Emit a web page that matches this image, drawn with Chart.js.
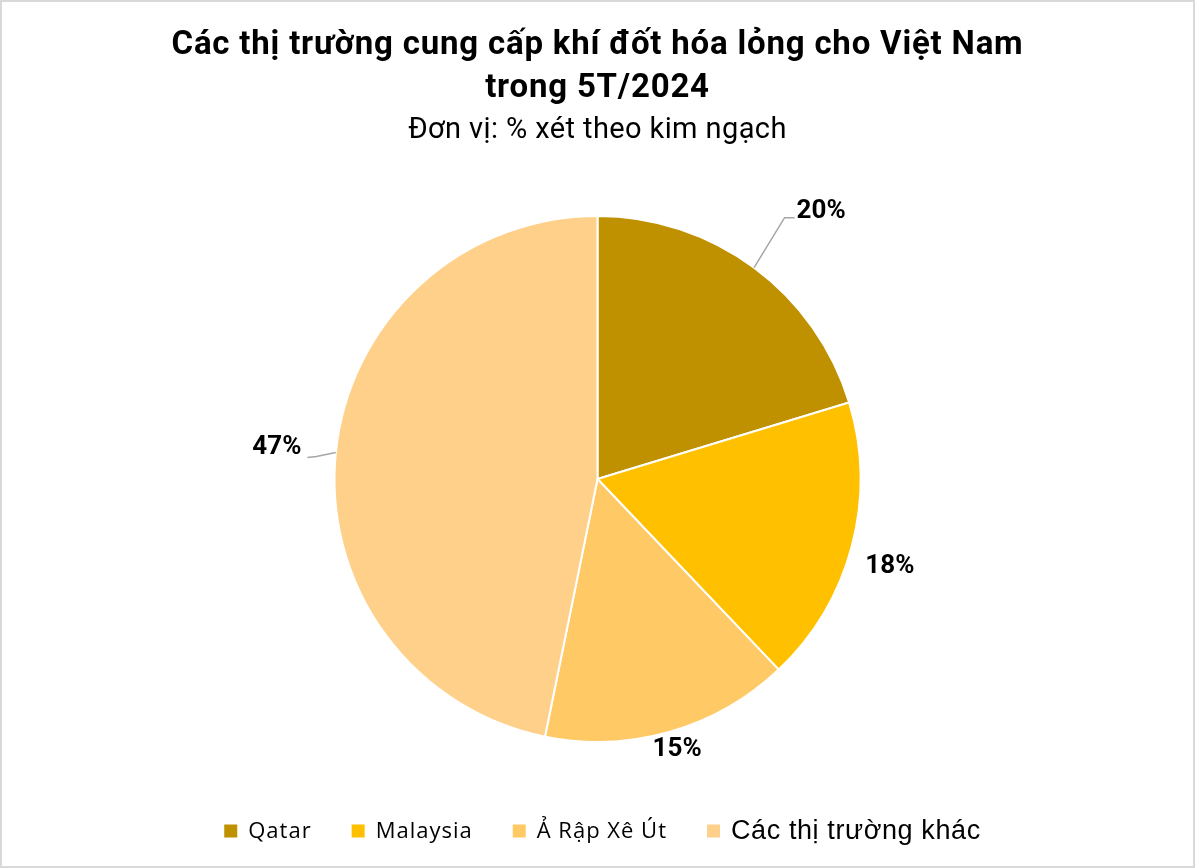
<!doctype html>
<html lang="vi">
  <head>
    <meta charset="utf-8">
    <title>Khí đốt hóa lỏng 5T/2024</title>
    <style>
      * { margin: 0; padding: 0; }
      body { background: #fff; }
      .chartBox { width: 1195px; height: 868px; }
    </style>
  </head>
  <body>
    <div class="chartBox">
      <canvas id="myChart" width="1195" height="868"></canvas>
    </div>
    <script src="https://cdn.jsdelivr.net/npm/chart.js/dist/chart.umd.min.js"></script>
    <script>
      // data
      const categories = ['Qatar', 'Malaysia', 'Ả Rập Xê Út', 'Các thị trường khác'];
      const shares = [20.3, 17.6, 15.3, 46.8];
      const sliceColors = ['#BF9000', '#FFC000', '#FFC966', '#FFD08A'];

      const titleLines = ['Các thị trường cung cấp khí đốt hóa lỏng cho Việt Nam', 'trong 5T/2024'];
      const subtitle = 'Đơn vị: % xét theo kim ngạch';

      // label shift from the slice edge at mid angle, and leader line or not
      const labelShift = [[67, -56], [38, 20], [7, 18], [-59, -5]];
      const leader = [true, false, false, true];

      const chrome = {
        id: 'chrome',
        beforeDraw(chart) {
          const { ctx, width, height } = chart;
          ctx.save();
          ctx.fillStyle = '#fff';
          ctx.fillRect(0, 0, width, height);
          ctx.strokeStyle = '#D9D9D9';
          ctx.lineWidth = 2;
          ctx.strokeRect(1, 1, width - 2, height - 2);

          ctx.fillStyle = '#000';
          ctx.textAlign = 'center';
          ctx.textBaseline = 'middle';
          ctx.font = 'bold 33px Roboto, sans-serif';
          ctx.letterSpacing = '0.8px';
          ctx.fillText(titleLines[0], width / 2, 46);
          ctx.fillText(titleLines[1], width / 2, 89);
          ctx.font = '29px Roboto, sans-serif';
          ctx.letterSpacing = '0.4px';
          ctx.fillText(subtitle, width / 2, 131);
          ctx.restore();
        },
        afterDraw(chart) {
          const { ctx, width } = chart;
          ctx.save();
          ctx.textBaseline = 'middle';
          const last = categories.length - 1;
          const fonts = categories.map((c, i) =>
            i === last ? '27px "Liberation Sans", Arial, sans-serif' : '22px "Open Sans", sans-serif');
          const spacing = categories.map((c, i) => i === last ? '0.6px' : '1px');
          const box = 13, gap = 11, itemGap = 40;
          const widths = categories.map((c, i) => {
            ctx.font = fonts[i];
            ctx.letterSpacing = spacing[i];
            return ctx.measureText(c).width;
          });
          const total = widths.reduce((a, w) => a + box + gap + w, 0) + itemGap * last;
          let x = width / 2 + 5 - total / 2;
          const y = 831;
          categories.forEach((c, i) => {
            ctx.fillStyle = sliceColors[i];
            ctx.fillRect(x, y - box / 2, box, box);
            x += box + gap;
            ctx.fillStyle = '#000';
            ctx.font = fonts[i];
            ctx.letterSpacing = spacing[i];
            ctx.fillText(c, x, y + 1);
            x += widths[i] + itemGap;
          });
          ctx.restore();
        }
      };

      const pieLabels = {
        id: 'pieLabels',
        afterDatasetsDraw(chart) {
          const { ctx } = chart;
          const arcs = chart.getDatasetMeta(0).data;
          ctx.save();
          ctx.font = 'bold 26px Roboto, sans-serif';
          ctx.fillStyle = '#000';
          ctx.textAlign = 'center';
          ctx.textBaseline = 'middle';
          arcs.forEach((arc, i) => {
            const { x, y, startAngle, endAngle, outerRadius } = arc.getProps(['x', 'y', 'startAngle', 'endAngle', 'outerRadius']);
            const mid = (startAngle + endAngle) / 2;
            const ex = x + Math.cos(mid) * outerRadius;
            const ey = y + Math.sin(mid) * outerRadius;
            const lx = ex + labelShift[i][0];
            const ly = ey + labelShift[i][1];
            const text = Math.round(shares[i]) + '%';
            const tw = ctx.measureText(text).width;
            if (leader[i]) {
              ctx.strokeStyle = '#A6A6A6';
              ctx.lineWidth = 1.5;
              ctx.beginPath();
              ctx.moveTo(ex, ey);
              if (lx > x) {
                const left = lx - tw / 2;
                ctx.lineTo(left - 12, ly + 6);
                ctx.lineTo(left - 2, ly + 6);
              } else {
                const right = lx + tw / 2;
                ctx.lineTo(right + 15, ly + 9);
                ctx.lineTo(right + 6, ly + 10);
              }
              ctx.stroke();
            }
            ctx.fillText(text, lx, ly);
          });
          ctx.restore();
        }
      };

      const data = {
        labels: categories,
        datasets: [{
          data: shares,
          backgroundColor: sliceColors,
          borderColor: '#fff',
          borderWidth: 2
        }]
      };

      const config = {
        type: 'pie',
        data,
        options: {
          responsive: false,
          animation: false,
          layout: { padding: { top: 215, bottom: 125, left: 0, right: 0 } },
          plugins: {
            legend: { display: false },
            title: { display: false },
            tooltip: { enabled: false }
          }
        },
        plugins: [chrome, pieLabels]
      };

      const myChart = new Chart(document.getElementById('myChart'), config);
    </script>
  </body>
</html>
